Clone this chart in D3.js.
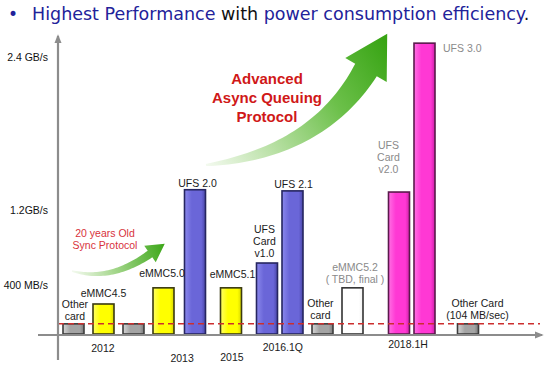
<!DOCTYPE html>
<html>
<head>
<meta charset="utf-8">
<script src="https://cdn.jsdelivr.net/npm/d3@7"></script>
<style>
  body { margin: 0; background: #fff; }
  svg { display: block; }
</style>
</head>
<body>
<div id="chart"></div>
<script>
// --- data ---
const barNames = ["Other card", "eMMC4.5", "Other card", "eMMC5.0", "UFS 2.0", "eMMC5.1",
  "UFS Card v1.0", "UFS 2.1", "Other card", "eMMC5.2", "UFS Card v2.0", "UFS 3.0", "Other Card"];
const barSpeeds = [88, 260, 88, 400, 1250, 400, 615, 1240, 88, 400, 1230, 2520, 88]; // MB/s
const barSlots = [0, 1, 2, 3, 4.05, 5.25, 6.45, 7.3, 8.3, 9.3, 10.85, 11.7, 13.15];
const barKinds = ["gray", "yellow", "gray", "yellow", "blue", "yellow",
  "blue", "blue", "gray", "white", "magenta", "magenta", "gray"];
const barLabels = [
  ["Other", "card"], ["eMMC4.5"], [], ["eMMC5.0"], ["UFS 2.0"], ["eMMC5.1"],
  ["UFS", "Card", "v1.0"], ["UFS 2.1"], ["Other", "card"], ["eMMC5.2", "( TBD, final )"],
  ["UFS", "Card", "v2.0"], ["UFS 3.0"], ["Other Card", "(104 MB/sec)"]
];
const greyLabels = ["eMMC5.2", "UFS Card v2.0", "UFS 3.0"];

const yearLabels = ["2012", "2013", "2015", "2016.1Q", "2018.1H"];
const yearSlots = [0.98, 3.62, 5.28, 6.98, 11.15];

const tickLabels = ["2.4 GB/s", "1.2GB/s", "400 MB/s"];
const tickValues = [2400, 1074, 425];

const syncLevel = 88; // red dashed reference line

// --- layout ---
const W = 558, H = 374;
const baseY = 334, topY = 57;
const axisX = 58;
const barW = 21;
// label nudges (dx, gap above bar)
const labelDx = [1.5, 0, 0, -1.5, 2.5, 1.5, -2.5, 1, -2, 2.5, -10.5, 0, 9.5];
const labelGap = [4, 7, 0, 11, 3, 10, 6, 3, 5, 5, 19, 0, 5];
const yearDy = [352, 362, 361, 351, 348];

const svg = d3.select("#chart").append("svg")
  .attr("width", W).attr("height", H)
  .style("font-family", "'Liberation Sans', Arial, sans-serif");

const y = d3.scaleLinear().domain([0, 2400]).range([baseY, topY]);
const x = d3.scaleLinear().domain([0, 16]).range([73.5, 553.5]);

const defs = svg.append("defs");

const palette = {
  gray: { c: ["#d6d6d6", "#a4a4a4", "#7a7a7a"], stroke: "#3c3c3c" },
  yellow: { c: ["#ffff66", "#ffff00", "#d8d800"], stroke: "#3a3a10" },
  blue: { c: ["#8a88ec", "#6a66d8", "#4a46a8"], stroke: "#262660" },
  magenta: { c: ["#ff70e4", "#ff38d4", "#d020a8"], stroke: "#5a1a4c" },
  white: { c: ["#ffffff", "#ffffff", "#f0f0f0"], stroke: "#333" }
};

Object.entries(palette).forEach(([k, p]) => {
  const g = defs.append("linearGradient").attr("id", "bar-" + k)
    .attr("x1", 0).attr("x2", 1).attr("y1", 0).attr("y2", 0);
  g.append("stop").attr("offset", "0%").attr("stop-color", p.c[0]);
  g.append("stop").attr("offset", "35%").attr("stop-color", p.c[1]);
  g.append("stop").attr("offset", "80%").attr("stop-color", p.c[1]);
  g.append("stop").attr("offset", "100%").attr("stop-color", p.c[2]);
});

function arrowGrad(id, x1, y1, x2, y2, stops) {
  const g = defs.append("linearGradient").attr("id", id)
    .attr("gradientUnits", "userSpaceOnUse")
    .attr("x1", x1).attr("y1", y1).attr("x2", x2).attr("y2", y2);
  stops.forEach(s => g.append("stop").attr("offset", s[0]).attr("stop-color", s[1]));
}
arrowGrad("big-arrow", 205, 165, 385, 40,
  [["0%", "#f4faf0"], ["30%", "#b8e0a4"], ["65%", "#6cc04a"], ["100%", "#38a414"]]);
arrowGrad("small-arrow", 72, 272, 165, 243,
  [["0%", "#f4faf0"], ["40%", "#a8d890"], ["100%", "#3aa616"]]);

// curved arrow that widens from tail to head (quadratic bezier centre line)
function curvedArrow(p0, p1, p2, w0, w1, headW, headL) {
  const n = 40, left = [], right = [];
  for (let i = 0; i <= n; i++) {
    const t = i / n, u = 1 - t;
    const px = u * u * p0[0] + 2 * u * t * p1[0] + t * t * p2[0];
    const py = u * u * p0[1] + 2 * u * t * p1[1] + t * t * p2[1];
    let tx = 2 * u * (p1[0] - p0[0]) + 2 * t * (p2[0] - p1[0]);
    let ty = 2 * u * (p1[1] - p0[1]) + 2 * t * (p2[1] - p1[1]);
    const len = Math.hypot(tx, ty); tx /= len; ty /= len;
    const w = (w0 + (w1 - w0) * Math.pow(t, 0.8)) / 2;
    left.push([px + ty * w, py - tx * w]);
    right.push([px - ty * w, py + tx * w]);
  }
  let tx = p2[0] - p1[0], ty = p2[1] - p1[1];
  const len = Math.hypot(tx, ty); tx /= len; ty /= len;
  const hw = headW / 2;
  const pts = left.concat([
    [p2[0] + ty * hw, p2[1] - tx * hw],
    [p2[0] + tx * headL, p2[1] + ty * headL],
    [p2[0] - ty * hw, p2[1] + tx * hw]
  ], right.reverse());
  return "M" + pts.map(p => p.join(",")).join("L") + "Z";
}

// title
const title = svg.append("text").attr("x", 32).attr("y", 20)
  .style("font-family", "'DejaVu Sans', Verdana, sans-serif")
  .style("font-size", "17.5px").attr("fill", "#22229a");
svg.append("text").attr("x", 8).attr("y", 20).text("•")
  .style("font-family", "'DejaVu Sans', Verdana, sans-serif")
  .style("font-size", "17px").attr("fill", "#22229a");
title.append("tspan").text("Highest Performance ");
title.append("tspan").attr("fill", "#111").text("with ");
title.append("tspan").text("power consumption efficiency");
title.append("tspan").attr("fill", "#111").text(".");

// arrows
svg.append("path").attr("fill", "url(#big-arrow)")
  .attr("d", curvedArrow([206, 165], [318, 152], [366, 70], 2, 25, 48, 42));
svg.append("path").attr("fill", "url(#small-arrow)")
  .attr("d", curvedArrow([72, 271], [110, 282], [150, 254], 1.5, 8, 20, 18));

svg.append("text").attr("text-anchor", "middle").attr("fill", "#d01818")
  .style("font-weight", "bold").style("font-size", "15px")
  .selectAll("tspan").data(["Advanced", "Async Queuing", "Protocol"]).join("tspan")
  .attr("x", 267).attr("y", (d, i) => 84 + i * 19).text(d => d);

svg.append("text").attr("text-anchor", "middle").attr("fill", "#d8323c")
  .style("font-size", "10.5px")
  .selectAll("tspan").data(["20 years Old", "Sync Protocol"]).join("tspan")
  .attr("x", 105).attr("y", (d, i) => 237 + i * 12).text(d => d);

// y axis labels
const yAxis = d3.axisLeft(y).tickValues(tickValues)
  .tickFormat((d, i) => tickLabels[i]).tickSize(0).tickPadding(10);
svg.append("g").attr("transform", `translate(${axisX},0)`).call(yAxis)
  .call(g => g.select(".domain").remove())
  .call(g => g.selectAll("text").style("font-size", "10.5px")
    .style("font-family", "'Liberation Sans', Arial, sans-serif").attr("fill", "#111"));

// bars
const bars = barSpeeds.map((v, i) => ({
  name: barNames[i], value: v, slot: barSlots[i], kind: barKinds[i], lines: barLabels[i], i
}));

svg.append("g").selectAll("rect").data(bars).join("rect")
  .attr("x", d => x(d.slot) - barW / 2)
  .attr("y", d => y(d.value))
  .attr("width", barW)
  .attr("height", d => baseY - y(d.value))
  .attr("fill", d => `url(#bar-${d.kind})`)
  .attr("stroke", d => palette[d.kind].stroke)
  .attr("stroke-width", 1.6);

// reference line
svg.append("line")
  .attr("x1", axisX).attr("x2", 540)
  .attr("y1", y(syncLevel)).attr("y2", y(syncLevel))
  .attr("stroke", "#cc2e2e").attr("stroke-width", 1.5)
  .attr("stroke-dasharray", "6,4");

// axes lines with arrow heads
defs.append("marker").attr("id", "axis-head")
  .attr("viewBox", "0 0 10 10").attr("refX", 8).attr("refY", 5)
  .attr("markerWidth", 4).attr("markerHeight", 4).attr("orient", "auto")
  .append("path").attr("d", "M0,1L10,5L0,9Z").attr("fill", "#8c8c8c");

svg.append("line").attr("x1", axisX).attr("x2", axisX)
  .attr("y1", 360).attr("y2", 36)
  .attr("stroke", "#8c8c8c").attr("stroke-width", 2.2)
  .attr("marker-end", "url(#axis-head)");
svg.append("line").attr("x1", 38).attr("x2", 542)
  .attr("y1", baseY + 1).attr("y2", baseY + 1)
  .attr("stroke", "#8c8c8c").attr("stroke-width", 2.2)
  .attr("marker-end", "url(#axis-head)");

// bar labels
const labelG = svg.append("g").style("font-size", "10.5px");
bars.forEach(d => {
  if (!d.lines.length) return;
  const color = greyLabels.includes(d.name) ? "#8a8a8a" : "#1a1a1a";
  if (d.name === "UFS 3.0") {
    labelG.append("text").attr("x", x(d.slot) + barW / 2 + 8).attr("y", y(d.value) + 9)
      .attr("fill", color).text(d.lines[0]);
    return;
  }
  const base = y(d.value) - labelGap[d.i];
  const n = d.lines.length;
  labelG.append("text").attr("text-anchor", "middle").attr("fill", color)
    .selectAll("tspan").data(d.lines).join("tspan")
    .attr("x", x(d.slot) + labelDx[d.i])
    .attr("y", (l, j) => base - (n - 1 - j) * 12)
    .text(l => l);
});

// year labels
svg.append("g").style("font-size", "10.5px").selectAll("text")
  .data(yearLabels).join("text")
  .attr("text-anchor", "middle").attr("fill", "#1a1a1a")
  .attr("x", (d, i) => x(yearSlots[i]))
  .attr("y", (d, i) => yearDy[i])
  .text(d => d);
</script>
</body>
</html>
